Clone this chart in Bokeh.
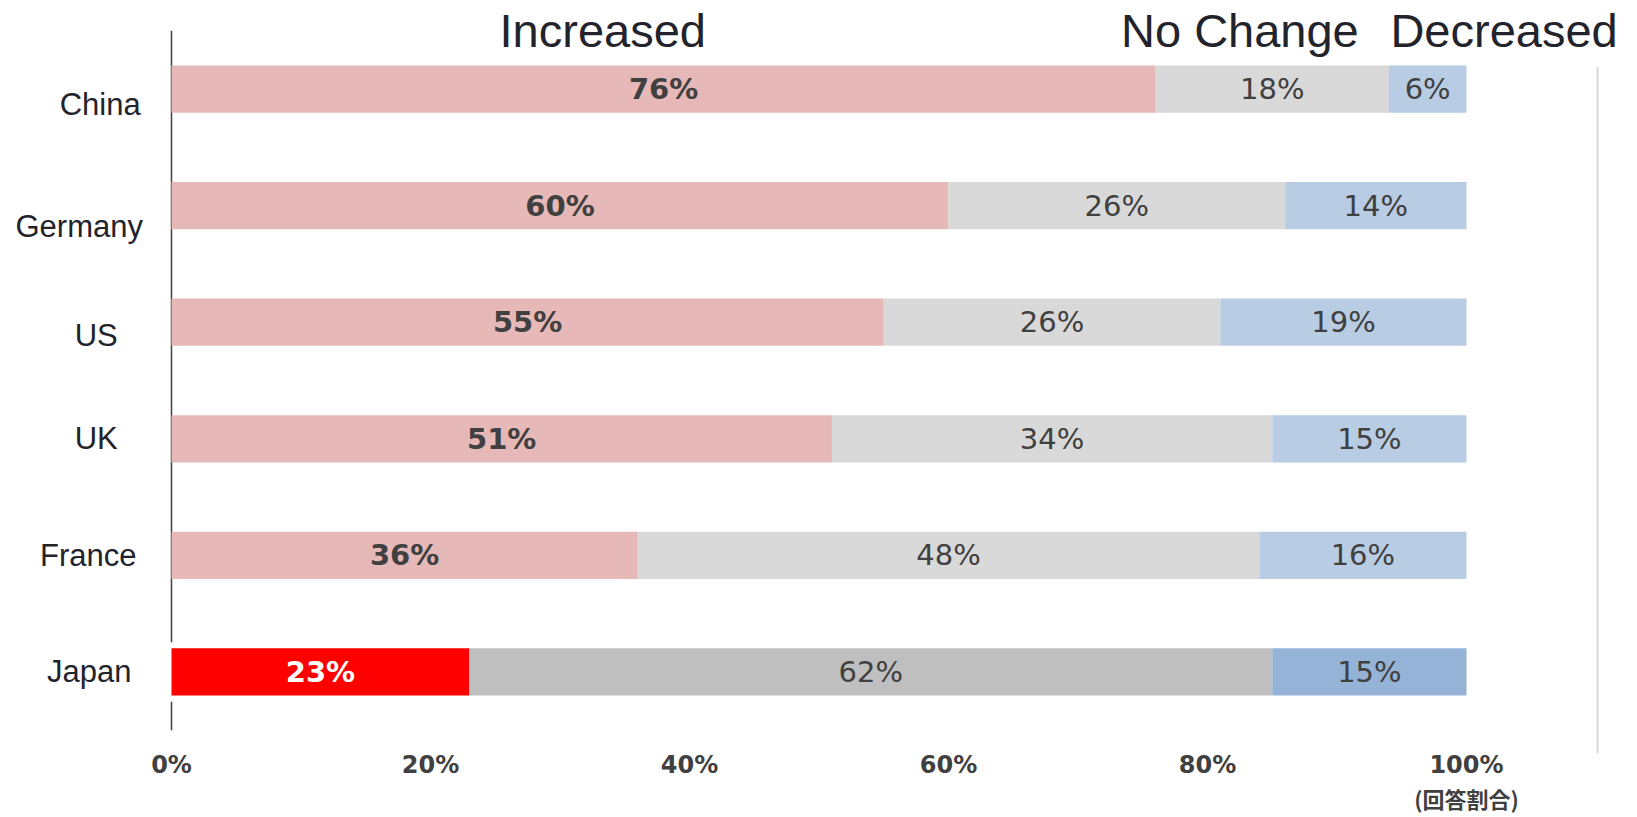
from bokeh.plotting import figure
from bokeh.models import ColumnDataSource, Range1d, FactorRange, FixedTicker, LinearAxis
from bokeh.core.properties import value
from bokeh.embed import file_html
from bokeh.resources import INLINE

# ---------------- data ----------------
countries = ["China", "Germany", "US", "UK", "France", "Japan"]
increased = [76, 60, 55, 51, 36, 23]
no_change = [18, 26, 26, 34, 48, 62]
decreased = [6, 14, 19, 15, 16, 15]
series_names = ["Increased", "No Change", "Decreased"]
tick_values = [0, 0.2, 0.4, 0.6, 0.8, 1.0]
tick_labels = ["0%", "20%", "40%", "60%", "80%", "100%"]
unit_label = "(回答割合)"
highlight = "Japan"

# ---------------- style / layout ----------------
W, H = 1637, 817
X0_PX, SCALE_PX = 171, 1295            # 0% position and px per 100%
normal_colors = ["#E6B8B7", "#D9D9D9", "#B8CCE4"]
highlight_colors = ["#FF0000", "#BFBFBF", "#95B3D7"]
header_x = [0.333, 0.825, 1.029]
label_dx = [9, -12, 5, 5, -3, -2]
label_dy = [15, 21, 13, 0, 0, 0]
text_dark = "#404040"

x_range = Range1d(-X0_PX / SCALE_PX, (W - X0_PX) / SCALE_PX)
y_range = FactorRange(factors=countries[::-1], range_padding=0.2, range_padding_units="absolute")

p = figure(width=W, height=H, x_range=x_range, y_range=y_range,
           output_backend="svg", toolbar_location=None, y_axis_location=None,
           min_border_left=0, min_border_right=0, min_border_top=7, min_border_bottom=64)
p.outline_line_color = None
p.xgrid.visible = False
p.ygrid.visible = False
p.background_fill_color = "white"
p.border_fill_color = "white"

# vertical axis line at 0%
p.segment(x0=[0], y0=[0], x1=[0], y1=[6], line_color="#404040", line_width=1.5)
# light frame line on the right
p.segment(x0=[1.1012], y0=[-0.2], x1=[1.1012], y1=[5.69], line_color="#D9D9D9", line_width=2)

# white backing around highlighted row (gap in axis line)
p.hbar(y=[highlight], left=-0.004, right=1.0, height=0.51, fill_color="white", line_color=None)

series = [increased, no_change, decreased]
lefts = [0.0] * len(countries)
for si, vals in enumerate(series):
    left = list(lefts)
    right = [l + v / 100 for l, v in zip(left, vals)]
    mid = [(l + r) / 2 for l, r in zip(left, right)]
    cols = [highlight_colors[si] if c == highlight else normal_colors[si] for c in countries]
    tcols = [("white" if (c == highlight and si == 0) else text_dark) for c in countries]
    src = ColumnDataSource(dict(y=countries, left=left, right=right, mid=mid,
                                color=cols, tcolor=tcols, label=[f"{v}%" for v in vals]))
    p.hbar(y="y", left="left", right="right", height=0.405, fill_color="color",
           line_color=None, source=src)
    p.text(x="mid", y="y", text="label", source=src, text_align="center",
           text_baseline="middle", text_color="tcolor",
           text_font=value("DejaVu Sans"), text_font_size="29px",
           text_font_style="bold" if si == 0 else "normal")
    lefts = right

# category labels
lab_src = ColumnDataSource(dict(x=[-0.062] * len(countries), y=countries, text=countries,
                                dx=label_dx, dy=label_dy))
p.text(x="x", y="y", text="text", x_offset="dx", y_offset="dy", source=lab_src,
       text_align="center", text_baseline="middle", text_color="#23232B",
       text_font=value("Liberation Sans"), text_font_size="31px")

# series headers
hdr_src = ColumnDataSource(dict(x=header_x, y=[6.0] * 3, text=series_names))
p.text(x="x", y="y", text="text", source=hdr_src, text_align="center",
       text_baseline="middle", text_color="#23232B",
       text_font=value("Liberation Sans"), text_font_size="47px")

# x axis
ax = p.xaxis[0]
ax.ticker = FixedTicker(ticks=tick_values)
ax.major_label_overrides = dict(zip(tick_values, tick_labels))
ax.axis_line_color = None
ax.major_tick_line_color = None
ax.minor_tick_line_color = None
ax.major_tick_out = 0
ax.major_tick_in = 0
ax.minor_tick_out = 0
ax.major_label_standoff = -3
ax.major_label_text_font = "DejaVu Sans"
ax.major_label_text_font_style = "bold"
ax.major_label_text_font_size = "24px"
ax.major_label_text_color = text_dark

ax2 = LinearAxis(ticker=FixedTicker(ticks=[tick_values[-1]]),
                 major_label_overrides={tick_values[-1]: unit_label})
ax2.axis_line_color = None
ax2.major_tick_line_color = None
ax2.minor_tick_line_color = None
ax2.major_tick_out = 0
ax2.major_tick_in = 0
ax2.minor_tick_out = 0
ax2.major_label_standoff = 0
ax2.major_label_text_font = "Noto Sans CJK JP"
ax2.major_label_text_font_style = "bold"
ax2.major_label_text_font_size = "22px"
ax2.major_label_text_line_height = 1.0
ax2.major_label_text_color = text_dark
p.add_layout(ax2, "below")

open("out.html", "w").write(file_html(p, INLINE))
